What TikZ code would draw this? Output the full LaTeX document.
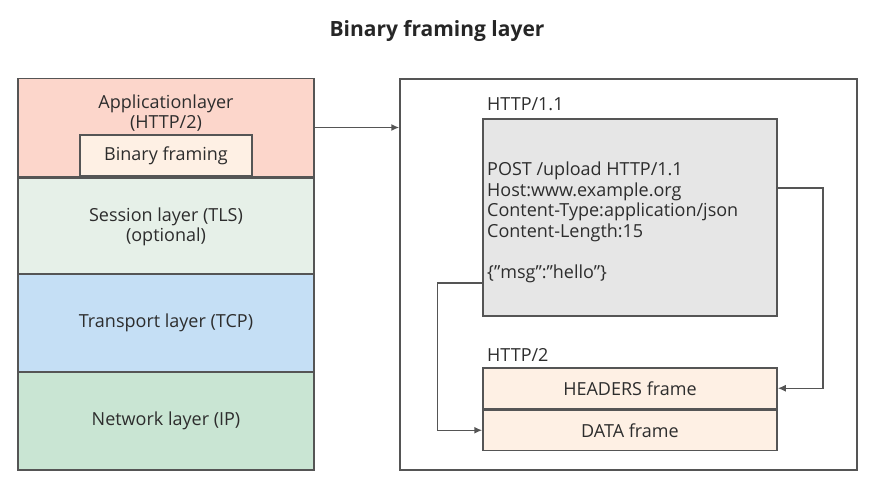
\documentclass[tikz,border=0pt]{standalone}
\usepackage{fontspec}
\setmainfont{Open Sans}
\usepackage{tikz}
\usetikzlibrary{arrows.meta,positioning,calc}
\definecolor{edgegray}{RGB}{85,85,85}
\definecolor{textgray}{RGB}{45,45,45}
\definecolor{appfill}{RGB}{252,214,203}
\definecolor{framefill}{RGB}{254,240,228}
\definecolor{sessfill}{RGB}{230,240,232}
\definecolor{tcpfill}{RGB}{197,223,245}
\definecolor{ipfill}{RGB}{201,229,211}
\definecolor{msgfill}{RGB}{230,230,230}

\begin{document}
\begin{tikzpicture}[
    x=1pt, y=-1pt,
    font=\fontsize{18}{20.5}\selectfont, text=textgray,
    layer/.style={draw=edgegray, line width=1.5pt, minimum width=296pt, minimum height=98pt, inner sep=0pt},
    framebox/.style={draw=edgegray, line width=1.5pt, fill=framefill, minimum width=294pt, minimum height=40.5pt, inner sep=0pt},
    conn/.style={draw=edgegray, line width=1.5pt, -{Latex[length=8pt,width=7pt]}},
]
    \useasboundingbox (0,0) rectangle (880,494);
    % title
    \node[font=\fontsize{21}{24}\selectfont\bfseries, text=black!85] (title) at (437,31) {Binary framing layer};

    % protocol stack
    \node[layer, fill=appfill] (app) at (166,127.5) {};
    \node[align=center] (applab) at (166,113) {Applicationlayer\\(HTTP/2)};
    \node[draw=edgegray, line width=1.5pt, fill=framefill, minimum width=172pt, minimum height=41pt, inner sep=0pt] (bin) at (166,155.5) {Binary framing};
    \node[layer, fill=sessfill, align=center] (tls) at (166,227) {Session layer (TLS)\\(optional)};
    \node[layer, fill=tcpfill] (tcp) at (166,323) {Transport layer (TCP)};
    \node[layer, fill=ipfill] (ip) at (166,421) {Network layer (IP)};

    % zoomed-in view
    \node[draw=edgegray, line width=1.5pt, minimum width=457pt, minimum height=391pt, inner sep=0pt] (outer) at (628.5,274.5) {};
    \draw[conn] (app.east) -- (app.east -| outer.west);

    % HTTP/1.1 message
    \node[anchor=base west, inner sep=0pt] (h1lab) at (487,111) {HTTP/1.1};
    \node[draw=edgegray, line width=1.5pt, fill=msgfill, minimum width=294pt, minimum height=197pt, inner sep=0pt] (msg) at (630,217.5) {};
    \node[anchor=north west, align=left, inner sep=0pt] (msgtext) at (487,162) {POST /upload HTTP/1.1\\Host:www.example.org\\Content-Type:application/json\\Content-Length:15\\[20.7pt]\{”msg”:”hello”\}};

    % HTTP/2 frames
    \node[anchor=base west, inner sep=0pt] (h2lab) at (487,361) {HTTP/2};
    \node[framebox] (headers) at (630,388.25) {HEADERS frame};
    \node[framebox, below=0pt of headers] (data) {DATA frame};

    % mapping
    \coordinate (hdrout) at (msg.east |- 0,188);
    \coordinate (bodyout) at (msg.west |- 0,283);
    \draw[conn] (hdrout) -| ($(headers.east)+(45,0)$) -- (headers.east);
    \draw[conn] (bodyout) -| ($(data.west)+(-45,0)$) -- (data.west);
\end{tikzpicture}
\end{document}
